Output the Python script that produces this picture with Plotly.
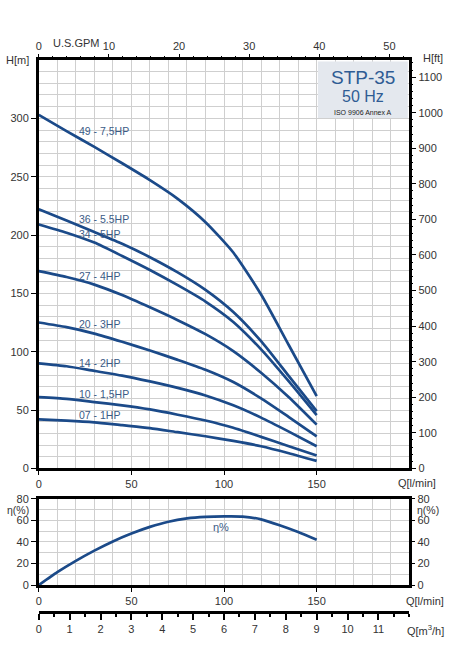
import plotly.graph_objects as go

# %%
# Pump curves (Q in l/min, H in m)
q_lmin = [0, 15, 30, 45, 60, 75, 90, 105, 120, 135, 150]
h_49 = [303, 289, 275.5, 261.5, 247, 231, 211, 185, 149, 105.5, 62]
h_36 = [222, 212.5, 202.5, 192.5, 181, 168, 153, 134, 109, 79, 49]
h_34 = [209, 202, 193.5, 182, 170, 157, 143, 125.5, 102, 74.5, 45.6]
h_27 = [169, 164, 157.5, 148.5, 138, 127, 115, 100.5, 82, 61, 37.5]
h_20 = [125, 121, 115.5, 108.5, 101, 93, 84.5, 74, 60, 44, 27.5]
h_14 = [90, 87.5, 83.5, 79.5, 74.5, 69, 62.5, 54, 43.5, 31.5, 19]
h_10 = [61, 59.5, 56.8, 54, 50.5, 46, 41, 34.8, 27, 19, 11]
h_07 = [42, 41, 39.5, 37, 34.5, 31, 27.5, 23.5, 19, 13, 6.4]
curve_names = ["49 - 7,5HP", "36 - 5.5HP", "34 - 5HP", "27 - 4HP",
               "20 - 3HP", "14 - 2HP", "10 - 1,5HP", "07 - 1HP"]

# efficiency curve
q_eff = [0, 10, 20, 30, 40, 50, 60, 70, 80, 90, 100, 110, 120, 130, 140, 150]
eta = [0, 12, 22.5, 32, 40.5, 47.8, 54, 58.8, 61.8, 63.2, 63.7, 63.5, 61, 55.5, 49.2, 42]

gpm_ticks = [0, 10, 20, 30, 40, 50]
ft_ticks = list(range(0, 1101, 100))
m3h_ticks = list(range(0, 12))

W, H = 455, 655
LINE = "#1b4a89"
TXT = "#333333"
LBL = "#3b5b86"
GRID = "#cfcfcf"
FONT = "Liberation Sans, Arial, sans-serif"


def px(x):
    return x / W


def py(y):
    return 1 - y / H


x_dom = [px(36), px(409)]
main_dom = [py(471), py(55)]
eff_dom = [py(590), py(502)]

fig = go.Figure()

heads = [h_49, h_36, h_34, h_27, h_20, h_14, h_10, h_07]
for name, h in zip(curve_names, heads):
    fig.add_trace(go.Scatter(x=q_lmin, y=h, mode="lines", name=name,
                             line=dict(color=LINE, width=2.7, shape="spline", smoothing=0.6),
                             xaxis="x", yaxis="y", showlegend=False))

fig.add_trace(go.Scatter(x=q_eff, y=eta, mode="lines", name="η%",
                         line=dict(color=LINE, width=2.7, shape="spline", smoothing=0.5),
                         xaxis="x3", yaxis="y3", showlegend=False))

# empty traces so the secondary scales (GPM, ft, right η, m3/h) get drawn
for xa, ya in [("x2", "y2"), ("x3", "y4"), ("x4", "y4")]:
    fig.add_trace(go.Scatter(x=[], y=[], mode="lines", xaxis=xa, yaxis=ya,
                             showlegend=False, hoverinfo="skip"))

tickfont = dict(family=FONT, size=11, color=TXT)
border = dict(showline=True, linecolor="black", linewidth=2.5, mirror=True)

fig.update_layout(
    width=W, height=H,
    margin=dict(l=0, r=0, t=0, b=0),
    paper_bgcolor="white", plot_bgcolor="white",
    font=dict(family=FONT, color=TXT),
    xaxis=dict(domain=x_dom, anchor="y", range=[0, 200], tickvals=[0, 50, 100, 150],
               ticks="outside", ticklen=4, tickcolor="black", tickfont=tickfont,
               showgrid=True, gridcolor=GRID, zeroline=False,
               minor=dict(dtick=10, showgrid=True, gridcolor=GRID), **border),
    xaxis2=dict(overlaying="x", side="top", anchor="y2", range=[0, 200 / 3.785], tickvals=gpm_ticks,
                ticks="outside", ticklen=5, tickcolor="black", tickfont=tickfont,
                showgrid=False, zeroline=False, showline=False,
                minor=dict(dtick=2, ticks="outside", ticklen=3, tickcolor="black")),
    yaxis=dict(domain=main_dom, anchor="x", range=[0, 350], tickvals=list(range(0, 301, 50)),
               ticks="outside", ticklen=5, tickcolor="black", tickfont=tickfont,
               showgrid=True, gridcolor=GRID, zeroline=False,
               minor=dict(dtick=10, showgrid=True, gridcolor=GRID), **border),
    yaxis2=dict(overlaying="y", side="right", anchor="x2", range=[0, 350 * 3.2808], tickvals=ft_ticks,
                ticks="outside", ticklen=6, tickcolor="black", tickfont=tickfont,
                showgrid=False, zeroline=False, showline=False,
                minor=dict(dtick=20, ticks="outside", ticklen=3, tickcolor="black")),
    xaxis3=dict(domain=x_dom, anchor="y3", range=[0, 200], tickvals=[0, 50, 100, 150],
                ticks="outside", ticklen=4, tickcolor="black", tickfont=tickfont,
                showgrid=True, gridcolor=GRID, zeroline=False,
                minor=dict(dtick=10, showgrid=True, gridcolor=GRID), **border),
    yaxis3=dict(domain=eff_dom, anchor="x3", range=[0, 80], tickvals=[0, 20, 40, 60, 80],
                ticks="outside", ticklen=5, tickcolor="black", tickfont=tickfont,
                showgrid=True, gridcolor=GRID, zeroline=False,
                minor=dict(dtick=10, showgrid=True, gridcolor=GRID), **border),
    yaxis4=dict(overlaying="y3", side="right", anchor="x3", range=[0, 80], tickvals=[0, 20, 40, 60, 80],
                ticks="outside", ticklen=5, tickcolor="black", tickfont=tickfont,
                showgrid=False, zeroline=False, showline=False),
    xaxis4=dict(overlaying="x3", anchor="free", position=py(617), range=[0, 12],
                tickvals=m3h_ticks, side="bottom",
                ticks="outside", ticklen=6, tickcolor="black", tickwidth=1.5, tickfont=tickfont,
                showgrid=False, zeroline=False, showline=True, linecolor="black", linewidth=3,
                minor=dict(dtick=0.5, ticks="outside", ticklen=3, tickcolor="black")),
)

annotations = []


def note(x, y, text, size=11, color=TXT, xanchor="center"):
    annotations.append(dict(x=px(x), y=py(y), xref="paper", yref="paper", text=text,
                            showarrow=False, xanchor=xanchor, yanchor="middle",
                            font=dict(family=FONT, size=size, color=color)))


# axis titles
note(15, 55, "H[m]")
note(433, 53, "H[ft]")
note(73, 38, "U.S.GPM")
note(417, 486, "Q[l/min]")
note(15, 513.5, "η(%)", size=10.5)
note(428, 513.5, "η(%)", size=10.5)
note(425, 606, "Q[l/min]")
note(425, 636, "Q[m<sup>3</sup>/h]")

# curve labels (left edge of text, height in metres)
label_h = [289, 213.7, 200.8, 164.7, 124.1, 90.5, 63.9, 45.6]
for name, hl in zip(curve_names, label_h):
    annotations.append(dict(x=20.8, y=hl, xref="x", yref="y", text=name, showarrow=False,
                            xanchor="left", yanchor="middle",
                            font=dict(family=FONT, size=10.5, color=LBL)))
annotations.append(dict(x=93, y=54, xref="x3", yref="y3", text="η%", showarrow=False,
                        xanchor="left", yanchor="middle",
                        font=dict(family=FONT, size=11, color=LBL)))

# model box
note(362, 73, "STP-35", size=19, color="#2f5c94")
note(362, 92, "50 Hz", size=16, color="#2f5c94")
note(362, 108, "ISO 9906 Annex A", size=7, color="#222222")

fig.update_layout(annotations=annotations)
fig.add_shape(type="rect", xref="paper", yref="paper", x0=px(317), x1=px(407.5),
              y0=py(114), y1=py(56.5), fillcolor="#e4e8ee", line=dict(width=0), layer="above")

# pin the figure to the page corner (no body margin, no scroll area)
pin = """
var d = document.getElementById('{plot_id}');
document.body.style.margin = '0px';
d.style.position = 'fixed';
d.style.top = '0px';
d.style.left = '0px';
"""
fig.write_html("out.html", config={"displayModeBar": False}, post_script=pin)
